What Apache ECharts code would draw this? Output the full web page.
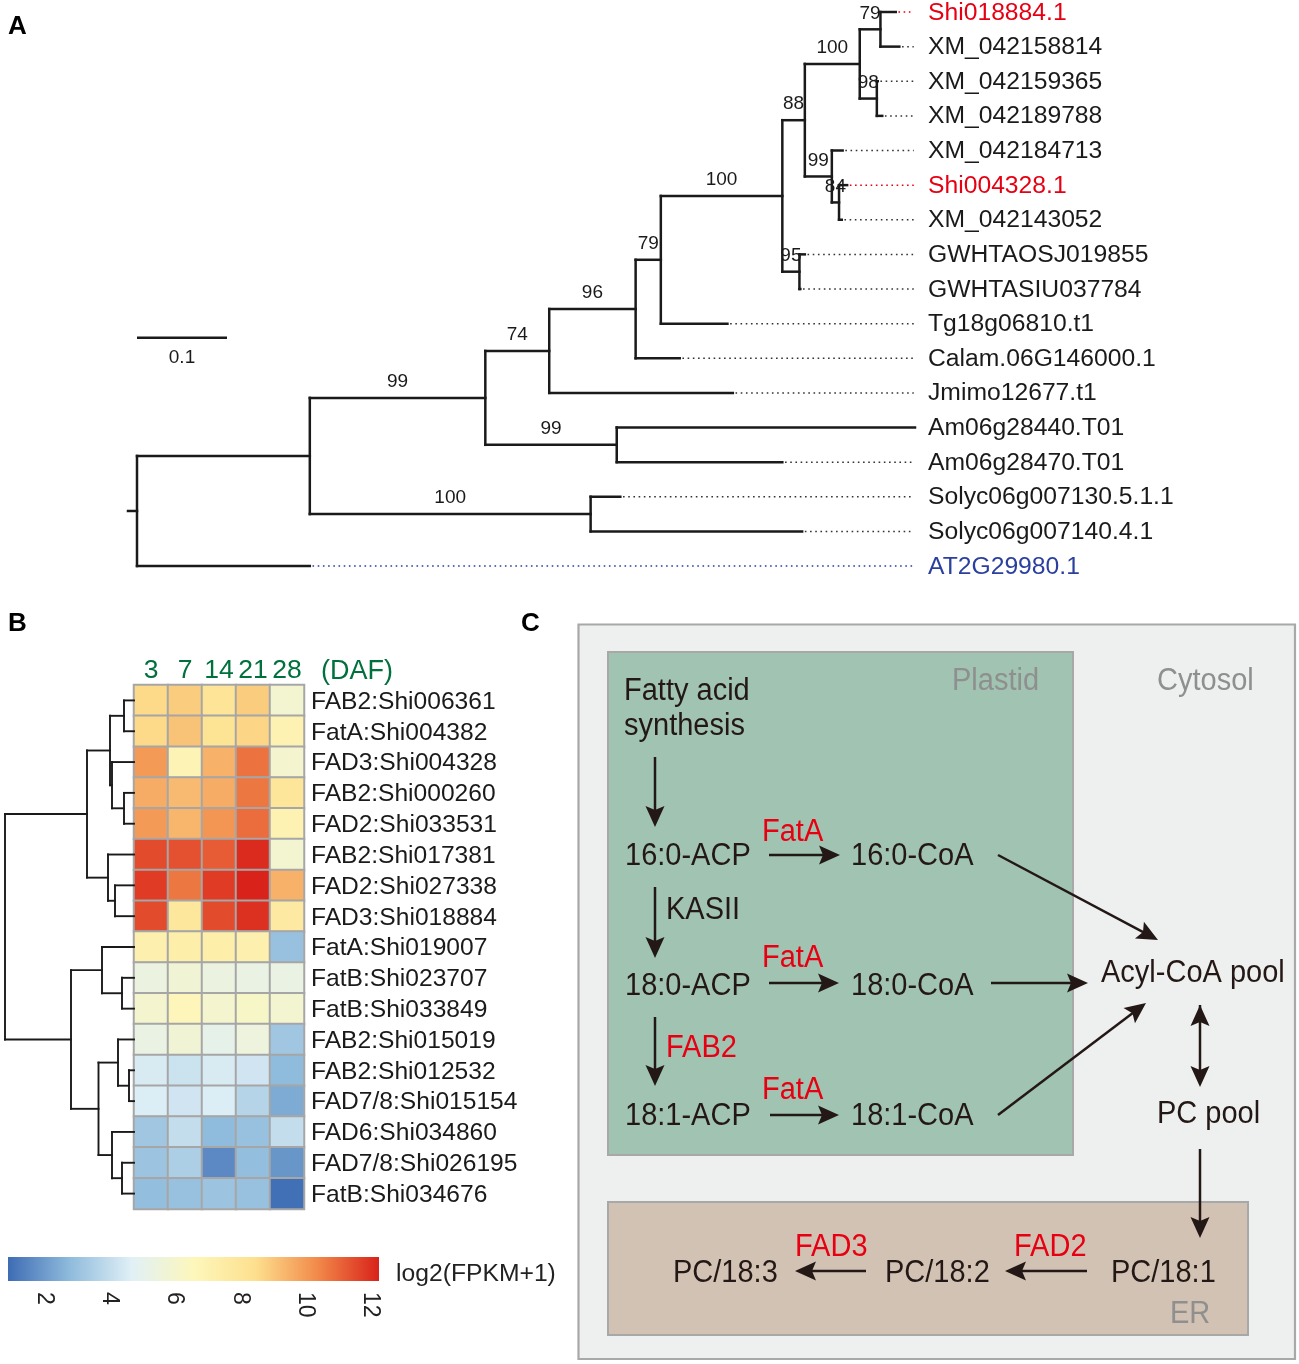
<!DOCTYPE html>
<html><head><meta charset="utf-8"><style>html,body{margin:0;padding:0;background:#fff}#c{width:1299px;height:1364px}</style>
<script src="https://cdn.jsdelivr.net/npm/echarts@6/dist/echarts.min.js"></script></head><body><div id="c"></div>
<script>
const FONT = '"Liberation Sans", Arial, sans-serif';
// Panel A: tree nodes are [distance from root, bootstrap support, ...children]; a bare number is a tip distance
const leafNames = ['Shi018884.1','XM_042158814','XM_042159365','XM_042189788','XM_042184713','Shi004328.1','XM_042143052','GWHTAOSJ019855','GWHTASIU037784','Tg18g06810.t1','Calam.06G146000.1','Jmimo12677.t1','Am06g28440.T01','Am06g28470.T01','Solyc06g007130.5.1.1','Solyc06g007140.4.1','AT2G29980.1'];
const redLeaves = ['Shi018884.1','Shi004328.1'];
const blueLeaves = ['AT2G29980.1'];
const phyloTree = [0,null,
  [.192,null,
    [.387,99,
      [.458,74,
        [.554,96,
          [.582,79,
            [.717,100,
              [.742,88,
                [.803,100,[.826,79,.843,.847],[.822,98,.823,.828]],
                [.772,99,.784,[.780,84,.789,.783]]],
              [.736,95,.742,.737]],
            .656],
          .603],
        .662],
      [.533,99,.8644,.717]],
    [.504,100,.537,.739]],
  .192];
const treeEnd = .8644, dotEnd = .863, scaleBar = [0,.1], scaleRow = 9.41, scaleLabel = '0.1';
// Panel B
const days = ['3','7','14','21','28'];
const genes = ['FAB2:Shi006361','FatA:Shi004382','FAD3:Shi004328','FAB2:Shi000260','FAD2:Shi033531','FAB2:Shi017381','FAD2:Shi027338','FAD3:Shi018884','FatA:Shi019007','FatB:Shi023707','FatB:Shi033849','FAB2:Shi015019','FAB2:Shi012532','FAD7/8:Shi015154','FAD6:Shi034860','FAD7/8:Shi026195','FatB:Shi034676'];
const expr = [
 [8.6,8.9,8.1,8.9,5.9],[8.6,9.1,8.2,8.7,7.0],[10.0,6.9,9.5,10.8,6.0],[9.6,9.3,9.6,10.7,8.0],[10.0,9.4,10.1,10.9,7.0],
 [11.5,11.4,11.2,12.1,5.9],[11.8,10.7,11.8,12.25,9.5],[11.5,7.9,11.5,12.0,7.7],[7.2,7.3,7.3,7.2,3.0],[5.4,5.8,5.4,5.3,5.3],
 [6.0,6.7,6.0,6.2,5.9],[5.3,5.8,5.1,5.5,3.2],[4.5,4.2,4.5,4.3,2.8],[4.6,4.3,4.6,3.7,2.4],[3.2,4.0,2.8,3.0,4.0],
 [3.1,3.5,1.6,2.9,1.9],[2.9,3.0,3.1,3.0,1.0]];
const palette = ['#3E6CB4','#8FBBDC','#E0F0F6','#FDF7BC','#FDE08E','#F28A4A','#D9221A'];
const colorMin = .9, colorMax = 12.25;
const colorTicks = [2,4,6,8,10,12];
// Row dendrogram: [merge height, ...children]; a bare number is a row index
const rowTree = [129,
  [47,[24,[10,0,1],[22,2,[10,3,4]]],[26,5,[19,6,7]]],
  [63,[32,8,[12,9,10]],[35.5,[16,11,[5,12,13]],[22,14,[12,15,16]]]]];

// --- derive tree segments
const solid = [], dotted = [], supports = [];
let tipRow = 0;
function walkPhylo(node, parentD) {
  if (typeof node === 'number') {
    const r = tipRow++, n = leafNames[r];
    solid.push([parentD,r,node,r]);
    const kind = redLeaves.includes(n) ? 1 : blueLeaves.includes(n) ? 2 : 0;
    if (node < treeEnd) dotted.push([node+.003,r,dotEnd,r,kind]);
    return r;
  }
  const [d,s,...kids] = node;
  const ys = kids.map(k => walkPhylo(k,d));
  const y = (ys[0]+ys[ys.length-1])/2;
  solid.push([d,ys[0],d,ys[ys.length-1]]);
  if (parentD !== null) solid.push([parentD,y,d,y]);
  if (s !== null) supports.push([(parentD+d)/2,y,s]);
  return y;
}
const rootY = walkPhylo(phyloTree,null);
solid.push([-.01,rootY,0,rootY]);
const scaleSeg = [[scaleBar[0],scaleRow,scaleBar[1],scaleRow]];
const dendro = [];
function walkRow(node, parentH) {
  if (typeof node === 'number') { dendro.push([parentH,node,0,node]); return node; }
  const [h,...kids] = node;
  const ys = kids.map(k => walkRow(k,h));
  const y = (ys[0]+ys[ys.length-1])/2;
  dendro.push([h,ys[0],h,ys[ys.length-1]]);
  if (parentH !== null) dendro.push([parentH,y,h,y]);
  return y;
}
walkRow(rowTree,null);
const heatData = [];
expr.forEach((row,r)=>row.forEach((v,c)=>heatData.push([c,r,v])));

const kindColor = ['#333','#e60012','#2b3f9e'];
const segRender = (width,dash,cap='square') => (params,api) => {
  const a = api.coord([api.value(0),api.value(1)]), b = api.coord([api.value(2),api.value(3)]);
  return {type:'line',shape:{x1:a[0],y1:a[1],x2:b[0],y2:b[1]},
    style:{stroke:dash?kindColor[api.value(4)]:'#1a1a1a',lineWidth:width,lineDash:dash||null,lineCap:cap,fill:null}};
};
const textRender = (params,api) => {
  const p = api.coord([api.value(0),api.value(1)]);
  return {type:'text',x:p[0],y:p[1]-16,style:{text:String(api.value(2)),font:'19px '+FONT,fill:'#1a1a1a',align:'center',verticalAlign:'middle'}};
};
const hidden = {axisLine:{show:false},axisTick:{show:false},axisLabel:{show:false},splitLine:{show:false}};
const bare = {axisLine:{show:false},axisTick:{show:false},splitLine:{show:false}};

// --- Panel C diagram helpers
const dark = '#231815', red = '#e60012', gray = '#8f8f8f';
const txt = (text,x,y,fill=dark,size=29,align='left') => ({type:'text',x,y:y+1.5,scaleY:1.07,z:5,style:{text,fill,font:size+'px '+FONT,align,verticalAlign:'middle'}});
const box = (x0,y0,x1,y1,fill,lw) => ({type:'rect',z:1,shape:{x:x0,y:y0,width:x1-x0,height:y1-y0},style:{fill,stroke:'#a8a8a8',lineWidth:lw}});
function arrow(x1,y1,x2,y2,both) {
  const L=Math.hypot(x2-x1,y2-y1),ux=(x2-x1)/L,uy=(y2-y1)/L,px=-uy,py=ux,len=21,w=9.5,n=4;
  const head=(tx,ty,dx,dy)=>({type:'polygon',z:4,shape:{points:[[tx,ty],[tx-dx*len+px*w,ty-dy*len+py*w],[tx-dx*(len-n),ty-dy*(len-n)],[tx-dx*len-px*w,ty-dy*len-py*w]]},style:{fill:dark}});
  const els=[{type:'line',z:4,shape:{x1,y1,x2:x2-ux*12,y2:y2-uy*12},style:{stroke:dark,lineWidth:2.5}},head(x2,y2,ux,uy)];
  if(both) els.push(head(x1,y1,-ux,-uy));
  return els;
}
const graphics = [
  {type:'text',x:8,y:27,style:{text:'A',font:'bold 26px '+FONT,fill:'#000',verticalAlign:'middle'}},
  {type:'text',x:8,y:624,style:{text:'B',font:'bold 26px '+FONT,fill:'#000',verticalAlign:'middle'}},
  {type:'text',x:521,y:624,style:{text:'C',font:'bold 26px '+FONT,fill:'#000',verticalAlign:'middle'}},
  {type:'text',x:321,y:671.5,style:{text:'(DAF)',fill:'#00703c',font:'27px '+FONT,verticalAlign:'middle'}},
  {type:'text',x:396,y:1274.5,style:{text:'log2(FPKM+1)',fill:'#222',font:'24.7px '+FONT,verticalAlign:'middle'}},
  box(578.5,624.5,1295,1359,'#eef0f0',2.2),
  box(608,652,1073,1155,'#a1c3b1',2),
  box(608,1202,1248,1335,'#d2c2b3',2),
  txt('Plastid',952,680,gray,29), txt('Cytosol',1157,680,gray,29), txt('ER',1170,1313,gray,29),
  txt('Fatty acid',624,690), txt('synthesis',624,725),
  txt('16:0-ACP',625,855), txt('18:0-ACP',625,985), txt('18:1-ACP',625,1115),
  txt('16:0-CoA',851,855), txt('18:0-CoA',851,985), txt('18:1-CoA',851,1115),
  txt('FatA',762,831,red), txt('FatA',762,957,red), txt('FatA',762,1089,red),
  txt('KASII',666,909), txt('FAB2',666,1047,red),
  txt('Acyl-CoA pool',1101,972), txt('PC pool',1157,1113),
  txt('PC/18:1',1111,1272), txt('PC/18:2',885,1272), txt('PC/18:3',673,1272),
  txt('FAD3',795,1246,red), txt('FAD2',1014,1246,red),
  ...arrow(655,757,655,827), ...arrow(655,887,655,958), ...arrow(655,1017,655,1086),
  ...arrow(769,855,840,855), ...arrow(769,983,839,983), ...arrow(770,1115,839,1115),
  ...arrow(998,855,1158,940), ...arrow(991,983,1088,983), ...arrow(998,1115,1146,1003),
  ...arrow(1200,1005,1200,1087,true), ...arrow(1200,1149,1200,1238),
  ...arrow(1087,1271,1005,1271), ...arrow(866,1271,795,1271)
];

const chart = echarts.init(document.getElementById('c'),null,{renderer:'canvas'});
chart.setOption({
  animation:false, backgroundColor:'#fff', textStyle:{fontFamily:FONT},
  graphic:{elements:graphics},
  grid:[
    {left:128,width:787,top:12,height:554},
    {left:134,width:170,top:685,height:524},
    {left:0,width:134,top:685,height:524},
    {left:8,width:371,top:1257,height:24},
    {left:128,width:787,top:12.8,height:554},
    {left:134,width:170,top:686.6,height:524}
  ],
  xAxis:[
    {gridIndex:0,type:'value',min:-.01,max:treeEnd,...hidden},
    {gridIndex:1,type:'category',position:'top',data:days,...bare,
      axisLabel:{color:'#00703c',fontSize:26.5,margin:1,interval:0}},
    {gridIndex:2,type:'value',min:0,max:134,inverse:true,...hidden},
    {gridIndex:3,type:'value',min:colorMin,max:colorMax,...bare,
      axisLabel:{show:true,rotate:-90,fontSize:23,color:'#222',margin:11,customValues:colorTicks}},
    {gridIndex:4,type:'value',min:-.01,max:treeEnd,...hidden},
    {gridIndex:5,type:'value',min:0,max:1,...hidden}
  ],
  yAxis:[
    {gridIndex:0,type:'value',inverse:true,min:0,max:leafNames.length-1,...hidden},
    {gridIndex:1,type:'category',inverse:true,data:genes,...hidden},
    {gridIndex:2,type:'value',inverse:true,min:-.5,max:genes.length-.5,...hidden},
    {gridIndex:3,type:'value',min:0,max:1,...hidden},
    {gridIndex:4,type:'value',inverse:true,min:0,max:leafNames.length-1,interval:1,position:'right',...bare,
      axisLabel:{margin:13,fontSize:24.7,formatter:v=>leafNames[v],
        color:v=>redLeaves.includes(leafNames[v])?'#e60012':blueLeaves.includes(leafNames[v])?'#2b3f9e':'#1a1a1a'}},
    {gridIndex:5,type:'category',inverse:true,position:'right',data:genes,...bare,
      axisLabel:{color:'#1a1a1a',fontSize:24.6,margin:7,interval:0}}
  ],
  visualMap:{show:false,type:'continuous',seriesIndex:4,dimension:2,min:colorMin,max:colorMax,inRange:{color:palette}},
  series:[
    {type:'custom',xAxisIndex:0,yAxisIndex:0,data:solid,renderItem:segRender(2.5),clip:false,silent:true,z:3},
    {type:'custom',xAxisIndex:0,yAxisIndex:0,data:dotted,renderItem:segRender(1.5,[1.6,3.6],'butt'),clip:false,silent:true,z:2},
    {type:'custom',xAxisIndex:0,yAxisIndex:0,data:supports,renderItem:textRender,clip:false,silent:true,z:4},
    {type:'custom',xAxisIndex:0,yAxisIndex:0,data:scaleSeg,clip:false,silent:true,
      renderItem:(p,api)=>{
        const a=api.coord([api.value(0),api.value(1)]),b=api.coord([api.value(2),api.value(3)]);
        return {type:'group',children:[
          {type:'line',shape:{x1:a[0],y1:a[1],x2:b[0],y2:b[1]},style:{stroke:'#1a1a1a',lineWidth:2.4}},
          {type:'text',x:(a[0]+b[0])/2,y:a[1]+20,style:{text:scaleLabel,font:'19px '+FONT,fill:'#1a1a1a',align:'center',verticalAlign:'middle'}}]};
      }},
    {type:'heatmap',xAxisIndex:1,yAxisIndex:1,data:heatData,itemStyle:{borderColor:'#a6a6a6',borderWidth:2},emphasis:{disabled:true},silent:true},
    {type:'custom',xAxisIndex:2,yAxisIndex:2,data:dendro,renderItem:segRender(1.9),clip:false,silent:true},
    {type:'custom',xAxisIndex:3,yAxisIndex:3,data:[[colorMin,0,colorMax,1]],silent:true,
      renderItem:(p,api)=>{
        const a=api.coord([api.value(0),api.value(1)]),b=api.coord([api.value(2),api.value(3)]);
        return {type:'rect',shape:{x:a[0],y:b[1],width:b[0]-a[0],height:a[1]-b[1]},
          style:{fill:new echarts.graphic.LinearGradient(0,0,1,0,palette.map((c,i)=>({offset:i/(palette.length-1),color:c})))}};
      }}
  ]
});
</script></body></html>
